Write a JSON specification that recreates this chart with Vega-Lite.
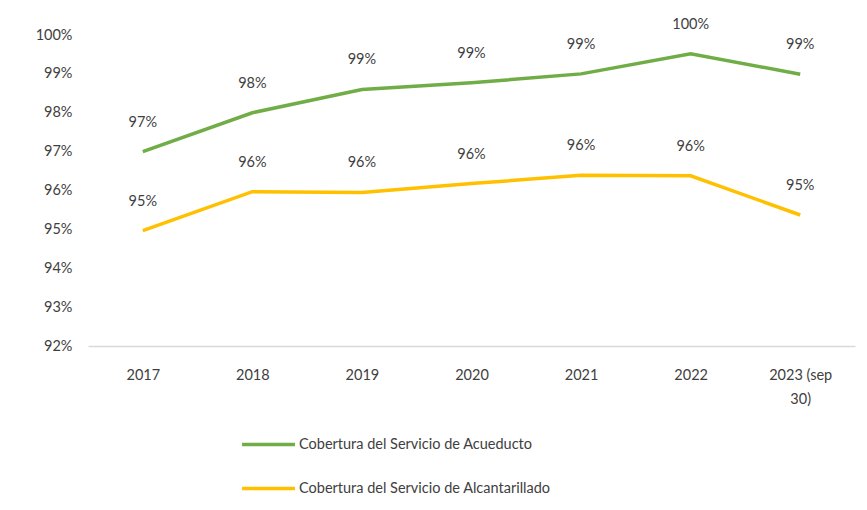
{
  "$schema": "https://vega.github.io/schema/vega-lite/v6.json",
  "width": 767,
  "height": 311,
  "autosize": {"type": "none"},
  "padding": {"left": 88, "top": 35, "right": 12, "bottom": 164},
  "background": "white",
  "config": {
    "font": "Lato",
    "view": {"stroke": null},
    "axis": {"labelFont": "Lato", "labelFontSize": 14.5, "labelColor": "#404040", "grid": false, "ticks": false, "title": null},
    "legend": {"labelFont": "Lato", "labelFontSize": 14.5, "labelColor": "#404040"}
  },
  "data": {
    "values": [
      {"year": "2017", "serie": "Cobertura del Servicio de Acueducto", "v": 0.970},
      {"year": "2018", "serie": "Cobertura del Servicio de Acueducto", "v": 0.980},
      {"year": "2019", "serie": "Cobertura del Servicio de Acueducto", "v": 0.986},
      {"year": "2020", "serie": "Cobertura del Servicio de Acueducto", "v": 0.9877},
      {"year": "2021", "serie": "Cobertura del Servicio de Acueducto", "v": 0.990},
      {"year": "2022", "serie": "Cobertura del Servicio de Acueducto", "v": 0.9952},
      {"year": "2023 (sep 30)", "serie": "Cobertura del Servicio de Acueducto", "v": 0.9899},
      {"year": "2017", "serie": "Cobertura del Servicio de Alcantarillado", "v": 0.9497},
      {"year": "2018", "serie": "Cobertura del Servicio de Alcantarillado", "v": 0.9597},
      {"year": "2019", "serie": "Cobertura del Servicio de Alcantarillado", "v": 0.9595},
      {"year": "2020", "serie": "Cobertura del Servicio de Alcantarillado", "v": 0.9618},
      {"year": "2021", "serie": "Cobertura del Servicio de Alcantarillado", "v": 0.9639},
      {"year": "2022", "serie": "Cobertura del Servicio de Alcantarillado", "v": 0.9638},
      {"year": "2023 (sep 30)", "serie": "Cobertura del Servicio de Alcantarillado", "v": 0.9537}
    ]
  },
  "encoding": {
    "x": {
      "field": "year", "type": "nominal", "sort": null,
      "scale": {"paddingInner": 0, "paddingOuter": 0},
      "axis": {
        "labelAngle": 0, "labelPadding": 22, "domainColor": "#d9d9d9", "domainWidth": 1.5,
        "labelExpr": "datum.value == '2023 (sep 30)' ? ['2023 (sep', '30)'] : datum.value",
        "labelLineHeight": 24
      }
    },
    "y": {
      "field": "v", "type": "quantitative",
      "scale": {"domain": [0.92, 1.0], "nice": false, "zero": false},
      "axis": {"format": ".0%", "values": [0.92,0.93,0.94,0.95,0.96,0.97,0.98,0.99,1.0], "labelOverlap": false, "domain": false, "labelPadding": 16}
    },
    "color": {
      "field": "serie", "type": "nominal",
      "scale": {"domain": ["Cobertura del Servicio de Acueducto", "Cobertura del Servicio de Alcantarillado"], "range": ["#70AD47", "#FFC000"]},
      "legend": {
        "title": null, "orient": "none", "legendX": 152, "legendY": 381,
        "symbolType": "stroke", "symbolSize": 2800, "symbolStrokeWidth": 3.5,
        "rowPadding": 8, "labelOffset": 2, "labelLimit": 0
      }
    }
  },
  "layer": [
    {"mark": {"type": "line", "strokeWidth": 3.5}},
    {
      "mark": {"type": "text", "dy": -29, "fontSize": 14.5, "color": "#404040", "font": "Lato"},
      "encoding": {
        "text": {"field": "v", "type": "quantitative", "format": ".0%"},
        "color": {"value": "#404040"}
      }
    }
  ]
}
